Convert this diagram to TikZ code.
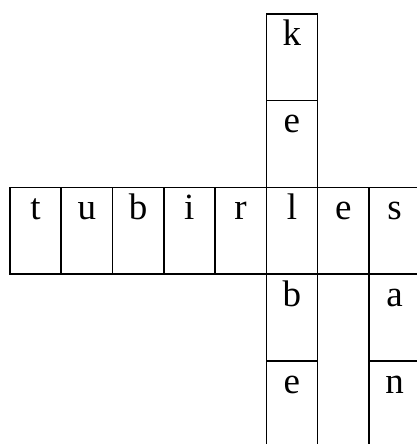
\documentclass[tikz,border=0pt]{standalone}
\usepackage{fontspec}
\setmainfont{Liberation Serif}
\usetikzlibrary{positioning}
\tikzset{
  % rutor
  cell/.style={draw=black,line width=1.6pt,inner sep=0pt,anchor=north west,
               minimum width=51.3pt,minimum height=86.8pt},
  letter/.style={anchor=base,inner sep=0pt,font=\fontsize{37}{40}\selectfont},
}
\begin{document}
\begin{tikzpicture}[x=1pt,y=1pt]
\clip (0,0) rectangle (417,444);
  % vågrätt ord
  \foreach \ch [count=\i from 0] in {t,u,b,i,r,l,e,s} {
    \node[cell] (h\i) at ({9+51.3*\i},257.4) {};
    \node[letter] (lh\i) at ([yshift=-33pt]h\i.north) {\ch};
  }
  % lodrätt ord
  \node[cell] (k) at (265.5,431) {};
  \node[cell] (e1) at (265.5,344.2) {};
  \node[cell] (b) at (265.5,170.6) {};
  \node[cell] (e2) at (265.5,83.8) {};
  % högra kolumnen
  \node[cell] (a) at (368.1,170.6) {};
  \node[cell] (n) at (368.1,83.8) {};
  \node[letter] (lk) at ([yshift=-33pt]k.north) {k};
  \node[letter] (le1) at ([yshift=-33pt]e1.north) {e};
  \node[letter] (lb) at ([yshift=-33pt]b.north) {b};
  \node[letter] (le2) at ([yshift=-33pt]e2.north) {e};
  \node[letter] (la) at ([yshift=-33pt]a.north) {a};
  \node[letter] (ln) at ([yshift=-33pt]n.north) {n};
\end{tikzpicture}
\end{document}
